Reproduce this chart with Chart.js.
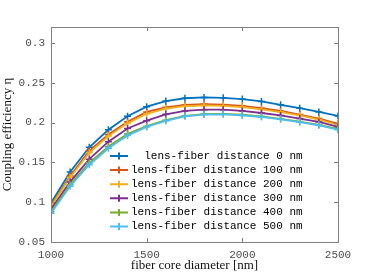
<!DOCTYPE html>
<html>
<head>
<meta charset="utf-8">
<script src="https://cdn.jsdelivr.net/npm/chart.js@4.4.0/dist/chart.umd.min.js"></script>
<style>
    body { margin: 0; background: #fff; }
    canvas { display: block; }
</style>
</head>
<body>
<canvas id="couplingChart" width="374" height="280"></canvas>
<script>
// Data
const coreDiameters = [1000, 1100, 1200, 1300, 1400, 1500, 1600, 1700, 1800, 1900, 2000, 2100, 2200, 2300, 2400, 2500];

const eta0nm   = [0.099, 0.138, 0.169, 0.191, 0.208, 0.220, 0.227, 0.2305, 0.2315, 0.231, 0.2295, 0.2265, 0.2223, 0.2181, 0.2134, 0.2083];
const eta100nm = [0.096, 0.133, 0.1645, 0.185, 0.201, 0.2133, 0.2192, 0.2221, 0.223, 0.2225, 0.2209, 0.218, 0.2145, 0.210, 0.205, 0.1985];
const eta200nm = [0.095, 0.131, 0.162, 0.183, 0.199, 0.211, 0.2175, 0.2205, 0.2215, 0.221, 0.2195, 0.2165, 0.2132, 0.209, 0.2037, 0.197];
const eta300nm = [0.091, 0.1255, 0.154, 0.176, 0.1925, 0.2024, 0.2104, 0.2146, 0.2162, 0.2162, 0.2146, 0.212, 0.209, 0.205, 0.2008, 0.1945];
const eta400nm = [0.088, 0.122, 0.1495, 0.170, 0.186, 0.1955, 0.203, 0.2085, 0.2107, 0.211, 0.2098, 0.2077, 0.2047, 0.2013, 0.1972, 0.192];
const eta500nm = [0.086, 0.120, 0.147, 0.1677, 0.1836, 0.1945, 0.202, 0.2078, 0.210, 0.2103, 0.209, 0.207, 0.204, 0.2005, 0.1965, 0.191];

const seriesLabels = [
    '  lens-fiber distance 0 nm',
    'lens-fiber distance 100 nm',
    'lens-fiber distance 200 nm',
    'lens-fiber distance 300 nm',
    'lens-fiber distance 400 nm',
    'lens-fiber distance 500 nm'
];
const seriesValues = [eta0nm, eta100nm, eta200nm, eta300nm, eta400nm, eta500nm];
const seriesColors = ['#0072BD', '#D95319', '#EDB120', '#7E2F8E', '#77AC30', '#4DBEEE'];

const xTicks = [1000, 1500, 2000, 2500];
const yTicks = [0.05, 0.1, 0.15, 0.2, 0.25, 0.3];

const monoFont = 'Liberation Mono, DejaVu Sans Mono, monospace';
const serifFont = 'Liberation Serif, DejaVu Serif, serif';

// Box around the plot with inward tick marks on all four sides
const boxPlugin = {
    id: 'box',
    afterDatasetsDraw(chart) {
        const { ctx, chartArea: a, scales } = chart;
        const len = 4;
        ctx.save();
        ctx.strokeStyle = '#808080';
        ctx.lineWidth = 1;
        ctx.strokeRect(a.left + 0.5, a.top + 0.5, a.right - a.left, a.bottom - a.top);
        ctx.beginPath();
        xTicks.forEach(v => {
            const x = Math.round(scales.x.getPixelForValue(v)) + 0.5;
            ctx.moveTo(x, a.bottom); ctx.lineTo(x, a.bottom - len);
            ctx.moveTo(x, a.top); ctx.lineTo(x, a.top + len);
        });
        yTicks.forEach(v => {
            const y = Math.round(scales.y.getPixelForValue(v)) + 0.5;
            ctx.moveTo(a.left, y); ctx.lineTo(a.left + len, y);
            ctx.moveTo(a.right, y); ctx.lineTo(a.right - len, y);
        });
        ctx.stroke();
        ctx.restore();
    }
};

// Legend drawn inside the plot area, MATLAB style (no frame)
const insideLegend = {
    id: 'insideLegend',
    afterDatasetsDraw(chart) {
        const { ctx } = chart;
        const x0 = 110, x1 = 128, top = 156, step = 14.1;
        ctx.save();
        ctx.font = '11px ' + monoFont;
        ctx.textBaseline = 'middle';
        chart.data.datasets.forEach((ds, i) => {
            const y = top + i * step;
            ctx.strokeStyle = ds.borderColor;
            ctx.lineWidth = 2;
            ctx.beginPath();
            ctx.moveTo(x0, y); ctx.lineTo(x1, y);
            const mx = (x0 + x1) / 2;
            ctx.moveTo(mx - 3.5, y); ctx.lineTo(mx + 3.5, y);
            ctx.moveTo(mx, y - 3.5); ctx.lineTo(mx, y + 3.5);
            ctx.stroke();
            ctx.fillStyle = '#000';
            ctx.fillText(ds.label, 131, y);
        });
        ctx.restore();
    }
};

const datasets = seriesValues.map((vals, i) => ({
    label: seriesLabels[i],
    data: vals,
    borderColor: seriesColors[i],
    backgroundColor: seriesColors[i],
    borderWidth: 1.8,
    pointStyle: 'cross',
    pointRadius: 3.5,
    pointBorderWidth: 1.5,
    tension: 0,
    fill: false,
    order: seriesValues.length - i
}));

new Chart(document.getElementById('couplingChart'), {
    type: 'line',
    data: { labels: coreDiameters, datasets: datasets },
    options: {
        responsive: false,
        animation: false,
        parsing: { xAxisKey: undefined },
        layout: { padding: { top: 27, right: 36, left: 0, bottom: 0 } },
        plugins: {
            legend: { display: false },
            tooltip: { enabled: false }
        },
        scales: {
            x: {
                type: 'linear',
                min: 1000,
                max: 2500,
                grid: { display: false, drawTicks: false },
                border: { display: false },
                afterBuildTicks: scale => { scale.ticks = xTicks.map(v => ({ value: v })); },
                afterFit: scale => { scale.height = 38; },
                ticks: {
                    padding: 6,
                    color: '#4d4d4d',
                    font: { family: monoFont, size: 11 },
                    maxRotation: 0,
                    callback: v => String(v)
                },
                title: {
                    display: true,
                    text: 'fiber core diameter [nm]',
                    color: '#111',
                    font: { family: serifFont, size: 13 },
                    padding: { top: 0, bottom: 7 }
                }
            },
            y: {
                min: 0.05,
                max: 0.32,
                grid: { display: false, drawTicks: false },
                border: { display: false },
                afterBuildTicks: scale => { scale.ticks = yTicks.map(v => ({ value: v })); },
                afterFit: scale => { scale.width = 51; },
                ticks: {
                    padding: 6,
                    color: '#4d4d4d',
                    font: { family: monoFont, size: 11 },
                    callback: v => String(v)
                },
                title: {
                    display: true,
                    text: 'Coupling efficiency η',
                    color: '#111',
                    font: { family: serifFont, size: 13 },
                    padding: { top: 0, bottom: 0 }
                }
            }
        }
    },
    plugins: [boxPlugin, insideLegend]
});
</script>
</body>
</html>
